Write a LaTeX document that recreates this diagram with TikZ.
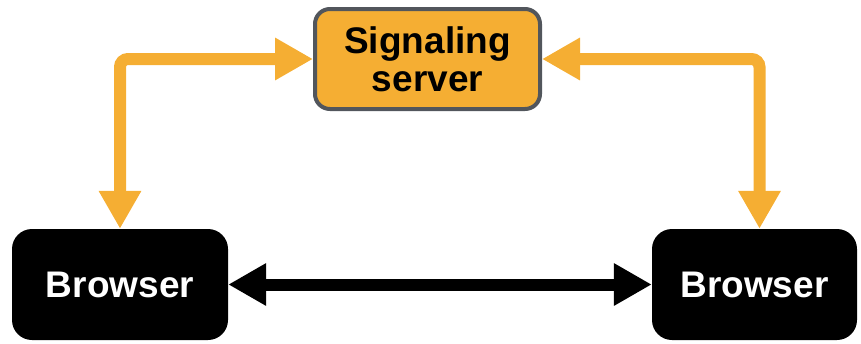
\documentclass[tikz,border=0pt]{standalone}
\usepackage{fontspec}
\setmainfont{Liberation Sans}
\usetikzlibrary{arrows.meta}
\definecolor{sigorange}{HTML}{F5AE33}
\definecolor{sigframe}{HTML}{52565C}
\tikzset{every node/.style={font=\bfseries\fontsize{37}{38}\selectfont, inner sep=0pt},
  server/.style={draw=sigframe, line width=4pt, fill=sigorange, rounded corners=15pt, minimum width=225pt, minimum height=100pt, align=center},
  browser/.style={fill=black, text=white, rounded corners=20pt, minimum height=111pt},
  sig/.style={draw=sigorange, line width=12pt, rounded corners=8pt, {Triangle[length=38pt,width=40pt]}-{Triangle[length=38pt,width=40pt]}},
  peer/.style={draw=black, line width=12pt, {Triangle[length=38pt,width=40pt]}-{Triangle[length=38pt,width=40pt]}}}

\begin{document}
\begin{tikzpicture}[x=1pt,y=-1pt]
  \useasboundingbox (0,0) rectangle (861,343);
  \node[server] (srv) at (427.5,59) {Signaling\\server};
  \node[browser, minimum width=216pt] (lb) at (120,284.5) {Browser};
  \node[browser, minimum width=205pt] (rb) at (754.5,284.5) {Browser};
  \coordinate (rtop) at ([xshift=5pt]rb.north);
  % signaling paths
  \draw[sig] (lb.north) |- (srv.west);
  \draw[sig] (rtop) |- (srv.east);
  % media path
  \draw[peer] (lb.east) -- (rb.west);
\end{tikzpicture}
\end{document}
